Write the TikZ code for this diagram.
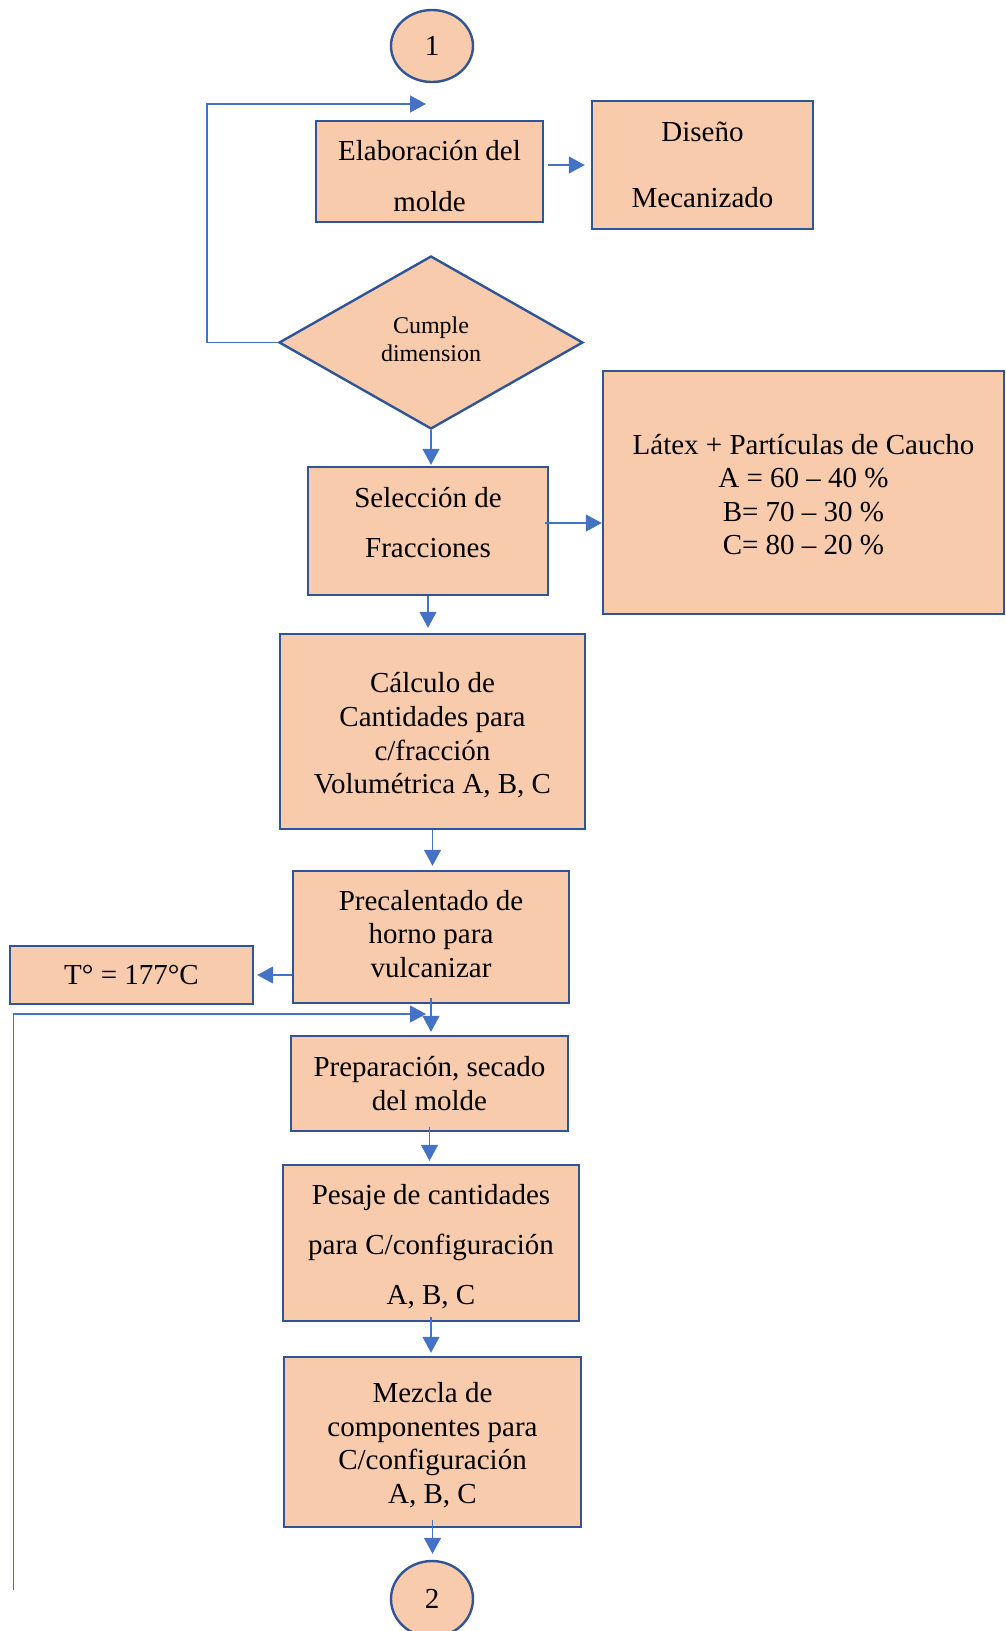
\documentclass[tikz,border=0pt]{standalone}
\usepackage{fontspec}
\setmainfont{Liberation Serif}
\usetikzlibrary{shapes.geometric,arrows.meta}
\definecolor{boxfill}{HTML}{F8CBAD}
\definecolor{boxline}{HTML}{2F5597}
\definecolor{arrcol}{HTML}{4472C4}
\begin{document}
\begin{tikzpicture}[x=1pt,y=-1pt,
  base/.style={draw=boxline,fill=boxfill,line width=2.4pt,inner sep=0pt,align=center,text=black},
  proc/.style={base,rectangle},
  conn/.style={base,ellipse,font=\fontsize{29}{33.6}\selectfont},
  lbl/.style={align=center,inner sep=0pt,text=black},
  arr/.style={draw=arrcol,line width=1.3pt,-{Triangle[length=16pt,width=17pt]}},
  fa/.style={font=\fontsize{29}{33.6}\selectfont},
  fb/.style={font=\fontsize{29}{50}\selectfont}]
\useasboundingbox (0,0) rectangle (1005,1631);
\node[conn,minimum width=82,minimum height=72] (c1) at (432,46) {1};
\node[proc,minimum width=227,minimum height=101] (elab) at (429.5,171.5) {};
\node[lbl,font=\fontsize{29}{51}\selectfont] (elabt) at ([yshift=-5pt]elab.center) {Elaboración del\\molde};
\node[proc,font=\fontsize{29}{65.5}\selectfont,minimum width=221,minimum height=128] (dis) at (702.5,165) {Diseño\\Mecanizado};
\node[base,diamond,minimum width=304,minimum height=173] (dia) at (431,342.5) {};
\node[lbl,font=\fontsize{24}{28}\selectfont] (diat) at ([yshift=3pt]dia.center) {Cumple\\dimension};
\node[proc,minimum width=240,minimum height=128] (sel) at (428,531) {};
\node[lbl,fb] (selt) at ([yshift=8pt]sel.center) {Selección de\\Fracciones};
\node[proc,minimum width=401,minimum height=243] (lat) at (803.5,492.5) {};
\node[lbl,fa] (latt) at ([yshift=-2pt]lat.center) {Látex + Partículas de Caucho\\A = 60 – 40 \%\\B= 70 – 30 \%\\C= 80 – 20 \%};
\node[proc,minimum width=305,minimum height=195] (calc) at (432.5,731.5) {};
\node[lbl,fa] (calct) at ([yshift=-4pt]calc.center) {Cálculo de\\Cantidades para\\c/fracción\\Volumétrica A, B, C};
\node[proc,minimum width=276,minimum height=132] (prec) at (431,937) {};
\node[lbl,fa] (prect) at ([yshift=3pt]prec.center) {Precalentado de\\horno para\\vulcanizar};
\node[proc,fa,minimum width=243,minimum height=58] (temp) at (131.5,975) {T° = 177°C};
\node[proc,fa,minimum width=277,minimum height=95] (prep) at (429.5,1083.5) {Preparación, secado\\del molde};
\node[proc,minimum width=296,minimum height=156] (pes) at (431,1243) {};
\node[lbl,fb] (pest) at ([yshift=-4pt]pes.center) {Pesaje de cantidades\\para C/configuración\\A, B, C};
\node[proc,minimum width=297,minimum height=170] (mez) at (432.5,1442) {};
\node[lbl,fa] (mezt) at ([yshift=-3pt]mez.center) {Mezcla de\\componentes para\\C/configuración\\A, B, C};
\node[conn,minimum width=82,minimum height=76] (c2) at (432,1599) {2};
% connectors
\draw[arr] ([xshift=4pt]elab.east |- dis.west) -- ([xshift=-6pt]dis.west);
\draw[arr] (dia.south) -- ([yshift=1pt]dia.south |- sel.north);
\draw[arr] ([xshift=-4pt,yshift=8pt]sel.east) -- ([yshift=8pt]sel.east -| lat.west);
\draw[arr] (sel.south) -- ([yshift=5pt]sel.south |- calc.north);
\draw[arr] (calc.south) -- ([yshift=4pt]calc.south |- prec.north);
\draw[arr] (prec.west |- temp.east) -- ([xshift=3pt]temp.east);
\draw[arr] ([yshift=6pt]prec.south) -- ([yshift=3pt]prec.south |- prep.north);
\draw[arr] ([yshift=5pt]prep.south) -- ([yshift=3pt]prep.south |- pes.north);
\draw[arr] ([yshift=5pt]pes.south) -- ([yshift=3pt]pes.south |- mez.north);
\draw[arr] ([yshift=8pt]mez.south) -- ([yshift=6pt]mez.south |- c2.north);
% loops
\coordinate (l1) at (426,104);
\coordinate (l2) at (426,1014);
\coordinate (l2s) at (13.5,1590);
\draw[arr,line width=1.1pt] (dia.west) -- (207,342.5) -- (207,104) -- (l1);
\draw[arr,line width=1.1pt] (l2s) -- (13.5,1014) -- (l2);
\end{tikzpicture}
\end{document}
